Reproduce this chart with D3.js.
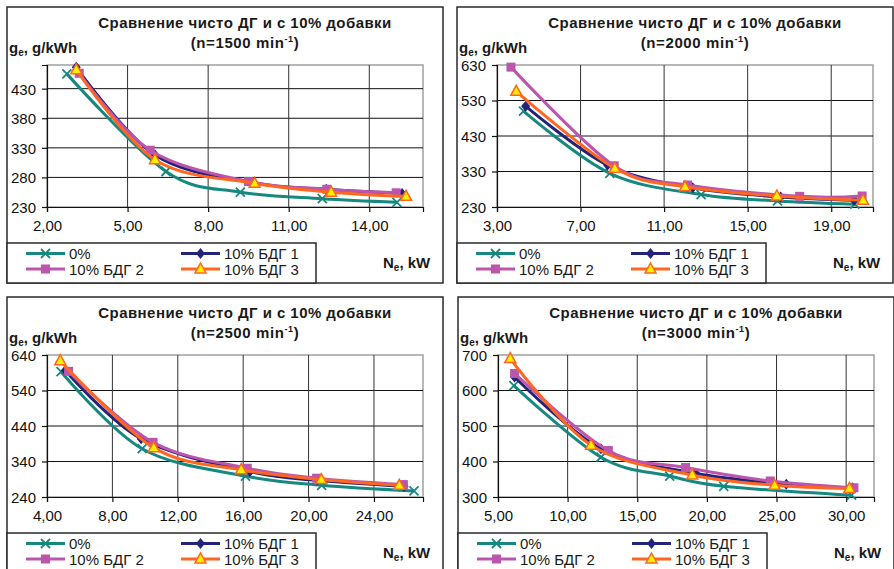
<!DOCTYPE html>
<meta charset="utf-8">
<body style="margin:0;background:#fff">
<div id="chart"></div>
<script src="https://d3js.org/d3.v7.min.js"></script>
<script>

var w = 894, h = 569;

// series and panels
var seriesNames = ["0%", "10% БДГ 1", "10% БДГ 2", "10% БДГ 3"];
var seriesColors = ["#16887f", "#23237a", "#bb55ad", "#ff6620"];
var speeds = [1500, 2000, 2500, 3000];

// N_e, kW  (one row per series)
var ne1500 = [[2.74, 6.43, 9.20, 12.25, 15.03],
              [3.09, 6.02, 9.70, 12.40, 15.22],
              [3.20, 5.84, 9.50, 12.42, 15.00],
              [3.09, 6.02, 9.73, 12.58, 15.37]];
var ge1500 = [[455, 290, 255, 244, 238],
              [466, 318, 271, 260, 253],
              [456, 326, 273, 260, 254],
              [462, 310, 270, 255, 248]];

var ne2000 = [[4.27, 8.40, 12.77, 16.43, 20.13],
              [4.37, 8.29, 12.37, 16.58, 20.10],
              [3.67, 8.61, 12.12, 17.49, 20.48],
              [3.92, 8.64, 12.00, 16.40, 20.52]];
var ge2000 = [[500, 325, 265, 247, 238],
              [514, 348, 284, 258, 249],
              [624, 346, 292, 260, 261],
              [556, 339, 287, 261, 249]];

var ne2500 = [[4.86, 9.82, 16.14, 20.80, 26.45],
              [5.12, 9.76, 16.41, 20.53, 25.84],
              [5.32, 10.49, 16.25, 20.49, 25.80],
              [4.81, 10.53, 15.88, 20.78, 25.55]];
var ge2500 = [[593, 376, 299, 273, 257],
              [596, 404, 312, 287, 270],
              [594, 394, 321, 293, 275],
              [624, 379, 317, 289, 273]];

var ne3000 = [[6.14, 12.39, 17.33, 21.21, 30.39],
              [6.19, 12.39, 19.19, 25.70, 30.46],
              [6.19, 12.92, 18.47, 24.55, 30.56],
              [5.88, 11.68, 18.95, 24.86, 30.23]];
var ge3000 = [[614, 412, 359, 330, 305],
              [638, 436, 367, 336, 326],
              [648, 431, 383, 345, 326],
              [690, 446, 362, 333, 324]];

var neData = [ne1500, ne2000, ne2500, ne3000];
var geData = [ge1500, ge2000, ge2500, ge3000];

var xDomains = [[2, 16], [3, 21], [4, 27], [5, 32]];
var xSteps = [3, 4, 4, 5];
var yDomains = [[230, 470], [230, 630], [240, 640], [300, 700]];
var ySteps = [50, 100, 100, 100];

var panelPos = [[7, 7], [457, 7], [7, 297], [458, 297]];
var pw = 436, ph = 276;
var plot = {left: 40, top: 58, right: 416, bottom: 200};

var font = "'Liberation Sans', Arial, sans-serif";

var svg = d3.select("#chart")
    .append("svg")
    .attr("width", w)
    .attr("height", h);

svg.append("rect")
    .attr("width", w)
    .attr("height", h)
    .attr("fill", "#fff");

function fmt(v) {
    return d3.format(".2f")(v).replace(".", ",");
}

function markerPath(type, s) {
    if (type == 0) {
        return "M" + (-s) + "," + (-s) + "L" + s + "," + s + "M" + (-s) + "," + s + "L" + s + "," + (-s);
    } else if (type == 1) {
        return "M0," + (-s - 1) + "L" + s + ",0L0," + (s + 1) + "L" + (-s) + ",0Z";
    } else if (type == 2) {
        return "M" + (-s) + "," + (-s) + "H" + s + "V" + s + "H" + (-s) + "Z";
    } else {
        return "M0," + (-s - 1.5) + "L" + (s + 1) + "," + (s - 0.5) + "L" + (-s - 1) + "," + (s - 0.5) + "Z";
    }
}

function drawMarker(g, type, x, y) {
    var m = g.append("path")
        .attr("d", markerPath(type, type == 0 ? 4.5 : 4.5))
        .attr("transform", "translate(" + x + "," + y + ")");
    if (type == 0) {
        m.attr("fill", "none").attr("stroke", seriesColors[0]).attr("stroke-width", 1.8);
    } else if (type == 3) {
        m.attr("fill", "#ffee00").attr("stroke", seriesColors[3]).attr("stroke-width", 1.5);
    } else {
        m.attr("fill", seriesColors[type]).attr("stroke", "none");
    }
}

speeds.forEach(function(speed, p) {
    var g = svg.append("g")
        .attr("transform", "translate(" + panelPos[p][0] + "," + panelPos[p][1] + ")");

    var x = d3.scaleLinear().domain(xDomains[p]).range([plot.left, plot.right]);
    var y = d3.scaleLinear().domain(yDomains[p]).range([plot.bottom, plot.top]);

    var xTicks = d3.range(xDomains[p][0], xDomains[p][1] + 0.001, xSteps[p]);
    var yTicks = d3.range(yDomains[p][0], yDomains[p][1] + 0.001, ySteps[p]);

    // panel frame
    g.append("rect")
        .attr("x", 0).attr("y", 0)
        .attr("width", pw).attr("height", ph)
        .attr("fill", "#fff")
        .attr("stroke", "#2a2a2a")
        .attr("stroke-width", 1.5);

    // plot area border
    g.append("rect")
        .attr("x", plot.left).attr("y", plot.top)
        .attr("width", plot.right - plot.left).attr("height", plot.bottom - plot.top)
        .attr("fill", "none")
        .attr("stroke", "#a0a0a0")
        .attr("stroke-width", 1.5);

    // grid
    g.selectAll(".hgrid")
        .data(yTicks.filter(function(t) { return y(t) > plot.top + 2 && t > yDomains[p][0]; }))
        .enter()
        .append("line")
        .attr("x1", plot.left).attr("x2", plot.right)
        .attr("y1", function(d) { return y(d); })
        .attr("y2", function(d) { return y(d); })
        .attr("stroke", "#111")
        .attr("stroke-width", 1);

    g.selectAll(".vgrid")
        .data(xTicks.filter(function(t) { return t > xDomains[p][0]; }))
        .enter()
        .append("line")
        .attr("y1", plot.top).attr("y2", plot.bottom)
        .attr("x1", function(d) { return x(d); })
        .attr("x2", function(d) { return x(d); })
        .attr("stroke", "#333")
        .attr("stroke-width", 1);

    // axes
    var xAxis = d3.axisBottom(x).tickValues(xTicks).tickFormat(fmt).tickSize(5).tickPadding(8);
    var yAxis = d3.axisLeft(y).tickValues(yTicks).tickFormat(d3.format("d")).tickSize(5).tickPadding(6);

    var xg = g.append("g")
        .attr("transform", "translate(0," + plot.bottom + ")")
        .call(xAxis);
    var yg = g.append("g")
        .attr("transform", "translate(" + plot.left + ",0)")
        .call(yAxis);

    [xg, yg].forEach(function(a) {
        a.select(".domain").attr("stroke", "#111").attr("stroke-width", 1.2);
        a.selectAll(".tick line").attr("stroke", "#111").attr("stroke-width", 1.2);
        a.selectAll(".tick text")
            .attr("fill", "#111")
            .style("font-family", font)
            .style("font-size", "15px");
    });
    yg.selectAll(".tick text").attr("dy", "0.36em");

    // series
    var line = d3.line()
        .x(function(d) { return x(d[0]); })
        .y(function(d) { return y(d[1]); })
        .curve(d3.curveCardinal.tension(0));

    seriesNames.forEach(function(name, s) {
        var pts = neData[p][s].map(function(v, i) { return [v, geData[p][s][i]]; });
        g.append("path")
            .datum(pts)
            .attr("d", line)
            .attr("fill", "none")
            .attr("stroke", seriesColors[s])
            .attr("stroke-width", 3);
        pts.forEach(function(d) {
            drawMarker(g, s, x(d[0]), y(d[1]));
        });
    });

    // titles
    g.append("text")
        .text("Сравнение чисто ДГ и с 10% добавки")
        .attr("x", 238)
        .attr("y", 21)
        .attr("text-anchor", "middle")
        .attr("font-family", font)
        .attr("font-weight", "bold")
        .attr("font-size", 15)
        .attr("letter-spacing", 0.45)
        .attr("fill", "#1a1a1a");

    var sub = g.append("text")
        .attr("x", 238)
        .attr("y", 41)
        .attr("text-anchor", "middle")
        .attr("font-family", font)
        .attr("font-weight", "bold")
        .attr("font-size", 15)
        .attr("letter-spacing", 0.6)
        .attr("fill", "#1a1a1a");
    sub.append("tspan").text("(n=" + speed + " min");
    sub.append("tspan").text("-1").attr("font-size", 9).attr("dy", -6);
    sub.append("tspan").text(")").attr("dy", 6);

    var yl = g.append("text")
        .attr("x", 2)
        .attr("y", 46)
        .attr("font-family", font)
        .attr("font-weight", "bold")
        .attr("font-size", 15)
        .attr("fill", "#1a1a1a");
    yl.append("tspan").text("g");
    yl.append("tspan").text("e").attr("font-size", 10).attr("dy", 3);
    yl.append("tspan").text(", g/kWh").attr("dy", -3);

    var xl = g.append("text")
        .attr("x", 376)
        .attr("y", 261)
        .attr("font-family", font)
        .attr("font-weight", "bold")
        .attr("font-size", 15)
        .attr("fill", "#1a1a1a");
    xl.append("tspan").text("N");
    xl.append("tspan").text("e").attr("font-size", 10).attr("dy", 3);
    xl.append("tspan").text(", kW").attr("dy", -3);

    // legend
    var lg = g.append("g");
    lg.append("rect")
        .attr("x", 0).attr("y", 236)
        .attr("width", 309).attr("height", ph - 236)
        .attr("fill", "#fff")
        .attr("stroke", "#2a2a2a")
        .attr("stroke-width", 1.5);

    seriesNames.forEach(function(name, s) {
        var lx = (s % 2 == 0) ? 19 : 174;
        var ly = (s < 2) ? 246.5 : 262;
        lg.append("line")
            .attr("x1", lx).attr("x2", lx + 39)
            .attr("y1", ly).attr("y2", ly)
            .attr("stroke", seriesColors[s])
            .attr("stroke-width", 3);
        drawMarker(lg, s, lx + 19.5, ly);
        lg.append("text")
            .text(name)
            .attr("x", lx + 43)
            .attr("y", ly + 5.5)
            .attr("font-family", font)
            .attr("font-size", 15)
            .attr("fill", "#1a1a1a");
    });
});
</script>
</body>
